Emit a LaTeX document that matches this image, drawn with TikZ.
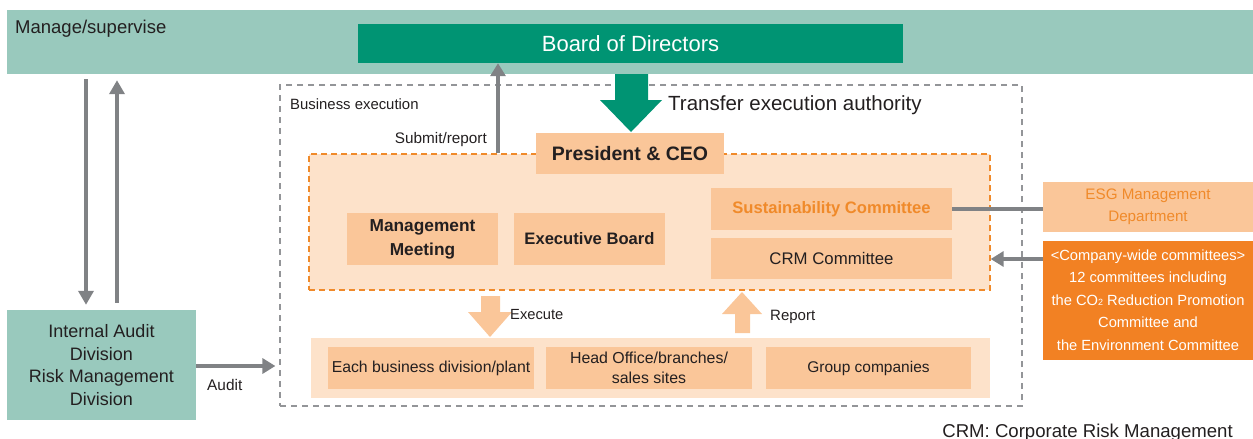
\documentclass[tikz,border=0pt]{standalone}
\usepackage{fontspec}
\setmainfont{Liberation Sans}
\usetikzlibrary{arrows.meta,calc}
\definecolor{bandteal}{HTML}{99C9BD}
\definecolor{bodgreen}{HTML}{009473}
\definecolor{peachD}{HTML}{FAC699}
\definecolor{peachL}{HTML}{FDE2CA}
\definecolor{orgfill}{HTML}{F28123}
\definecolor{orgtext}{HTML}{F08A2A}
\definecolor{arrgrey}{HTML}{808285}
\definecolor{dashgrey}{HTML}{939598}
\definecolor{txt}{HTML}{231F20}
\newcommand{\fs}[2]{\fontsize{#1}{#2}\selectfont}
\tikzset{
  box/.style={draw=none, inner sep=0pt, align=center, text=txt},
  lbl/.style={inner sep=0pt, text=txt},
  garrow/.style={draw=arrgrey, line width=4pt, -{Triangle[width=15pt,length=14pt]}},
  gline/.style={draw=arrgrey, line width=4pt},
}
\begin{document}
\begin{tikzpicture}[x=1pt,y=-1pt]
\useasboundingbox (0,0) rectangle (1253,439);
% top band
\node[box, fill=bandteal, minimum width=1246pt, minimum height=64pt] (band) at (630,42) {};
\node[lbl, anchor=base west, font=\fs{18.5}{22}] (mslbl) at (15,33.5) {Manage/supervise};
\node[box, fill=bodgreen, text=white, minimum width=545pt, minimum height=39pt, font=\fs{22}{26}] (bod) at (630.5,43.5) {Board of Directors};
% business execution
\node[box, draw=dashgrey, dashed, dash pattern=on 6pt off 5pt, line width=1.2pt, minimum width=742pt, minimum height=321pt] (biz) at (651,245.5) {};
\node[lbl, anchor=base west, font=\fs{14.9}{18}] (bizlbl) at (290,109.5) {Business execution};
% orange dashed box
\node[box, fill=peachL, draw=orgtext, dashed, dash pattern=on 6pt off 4pt, line width=1.3pt, minimum width=681pt, minimum height=136pt] (orng) at (649.5,222) {};
\node[box, fill=peachD, minimum width=188pt, minimum height=41pt, font=\bfseries\fs{19.5}{23}] (ceo) at (630,153.5) {President \& CEO};
% transfer arrow
\fill[bodgreen] (615,74) -- (648,74) -- (648,100) -- (662,100) -- (631,132) -- (600,100) -- (615,100) -- cycle;
\node[lbl, anchor=base west, font=\fs{20.5}{24}] (tealbl) at (668,110.5) {Transfer execution authority};
% submit/report
\draw[garrow, -{Triangle[width=15pt,length=13pt]}] (498,0 |- orng.north) -- (498,0 |- bod.south);
\node[lbl, anchor=base east, font=\fs{15.3}{18}] (sublbl) at (487,143) {Submit/report};
% inner boxes
\node[box, fill=peachD, minimum width=151pt, minimum height=52pt, font=\bfseries\fs{17.3}{24}] (mm) at (422.5,239) {Management\\Meeting};
\node[box, fill=peachD, minimum width=151pt, minimum height=52pt, font=\bfseries\fs{16.6}{20}] (eb) at (589.5,239) {Executive Board};
\node[box, fill=peachD, text=orgtext, minimum width=241pt, minimum height=42pt, font=\bfseries\fs{16.6}{20}] (sust) at (831.5,209) {Sustainability Committee};
\node[box, fill=peachD, minimum width=241pt, minimum height=41pt, font=\fs{16.8}{20}] (crm) at (831.5,258.5) {CRM Committee};
% right boxes
\node[box, fill=peachD, text=orgtext, minimum width=210pt, minimum height=50pt, font=\fs{15.2}{22.5}] (esg) at (1148,207) {ESG Management\\Department};
\node[box, fill=orgfill, text=white, minimum width=210pt, minimum height=119pt, font=\fs{14.7}{22.5}] (comp) at (1148,300) {<Company-wide committees>\\12 committees including\\the CO{\fs{9}{10}2} Reduction Promotion\\Committee and\\the Environment Committee};
\draw[gline] (sust.east) -- (sust.east -| esg.west);
\draw[garrow, -{Triangle[width=15pt,length=13pt]}] (comp.west |- 0,259) -- (orng.east |- 0,259);
% bottom band
\node[box, fill=peachL, minimum width=679pt, minimum height=60pt] (bot) at (650.5,368) {};
\node[box, fill=peachD, minimum width=206pt, minimum height=42pt, font=\fs{15.8}{19}] (each) at (431,368) {Each business division/plant};
\node[box, fill=peachD, minimum width=206pt, minimum height=42pt, font=\fs{15.9}{20}] (head) at (649,368) {Head Office/branches/\\sales sites};
\node[box, fill=peachD, minimum width=205pt, minimum height=42pt, font=\fs{15.5}{19}] (grp) at (868.5,368) {Group companies};
% execute / report block arrows
\fill[peachD] (481,296) -- (500,296) -- (500,312) -- (512,312) -- (490,337) -- (468,312) -- (481,312) -- cycle;
\node[lbl, anchor=base west, font=\fs{14.7}{18}] (exlbl) at (510,319.5) {Execute};
\fill[peachD] (735,333) -- (750,333) -- (750,314) -- (762,314) -- (742,292) -- (722,314) -- (735,314) -- cycle;
\node[lbl, anchor=base west, font=\fs{15}{18}] (replbl) at (770,320) {Report};
% audit box
\node[box, fill=bandteal, minimum width=189pt, minimum height=110pt, font=\fs{18}{22.7}] (aud) at (101.5,365) {Internal Audit\\Division\\Risk Management\\Division};
\draw[garrow, shorten <=5pt, shorten >=5pt] (86,0 |- band.south) -- (86,0 |- aud.north);
\draw[garrow, shorten <=7pt, shorten >=6pt] (117,0 |- aud.north) -- (117,0 |- band.south);
\draw[garrow, -{Triangle[width=15pt,length=13pt]}, shorten >=4pt] (aud.east |- 0,366) -- (biz.west |- 0,366);
\node[lbl, anchor=base west, font=\fs{15.4}{18}] (audlbl) at (207,390) {Audit};
% footnote
\node[lbl, anchor=base east, font=\fs{18.6}{22}] (foot) at (1233,437) {CRM: Corporate Risk Management};
\end{tikzpicture}
\end{document}
